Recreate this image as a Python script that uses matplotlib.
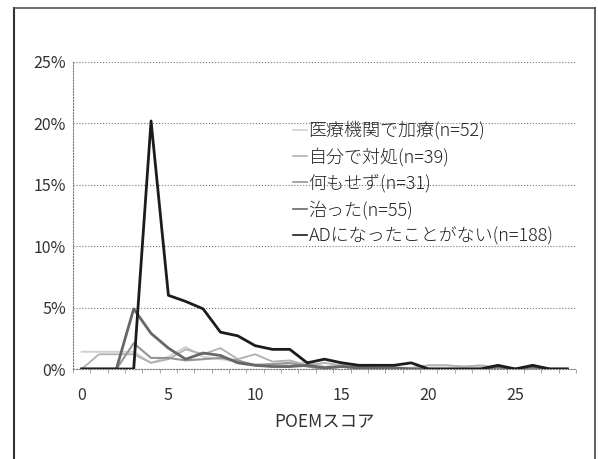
import numpy as np
import matplotlib
matplotlib.use('Agg')
import matplotlib.pyplot as plt
from matplotlib.lines import Line2D

plt.rcParams['font.family'] = ['Noto Sans CJK JP', 'DejaVu Sans']

scores = list(range(29))
iryo = [1.4, 1.4, 1.4, 1.4, 0.5, 1.0, 1.8, 1.0, 0.8, 0.6, 0.4, 0.4, 0.3, 0.6, 0.2,
        0.4, 0, 0, 0, 0, 0.3, 0.3, 0.2, 0.2, 0.2, 0, 0, 0, 0]
jibun = [0, 1.2, 1.2, 1.2, 0.5, 0.8, 1.6, 1.2, 1.7, 0.8, 1.2, 0.6, 0.7, 0.3, 0.5,
         0.3, 0.2, 0.1, 0.1, 0.1, 0.3, 0.3, 0.2, 0.3, 0.1, 0, 0, 0, 0]
nanimo = [0, 0, 0, 2.1, 0.9, 0.9, 0.7, 0.8, 0.9, 0.7, 0.3, 0.4, 0.5, 0.2, 0,
          0.2, 0, 0, 0, 0, 0, 0, 0, 0, 0, 0, 0, 0, 0]
naotta = [0, 0, 0, 4.9, 2.9, 1.7, 0.8, 1.3, 1.1, 0.5, 0.3, 0.2, 0.2, 0.3, 0.1,
          0.2, 0.1, 0.1, 0.1, 0, 0, 0, 0, 0, 0.2, 0, 0.2, 0, 0]
ad = [0, 0, 0, 0, 20.2, 6.0, 5.5, 4.9, 3.0, 2.7, 1.9, 1.6, 1.6, 0.5, 0.8,
      0.5, 0.3, 0.3, 0.3, 0.5, 0, 0, 0, 0, 0.3, 0, 0.3, 0, 0]

labels = ['医療機関で加療(n=52)', '自分で対処(n=39)', '何もせず(n=31)',
          '治った(n=55)', 'ADになったことがない(n=188)']
series = [iryo, jibun, nanimo, naotta, ad]
colors = ['#cfcfcf', '#b0b0b0', '#959595', '#676767', '#1c1c1c']
widths = [1.3, 1.3, 1.5, 2.0, 2.0]

fig = plt.figure(figsize=(5.98, 4.59), dpi=100)
# chart frame
fig.add_artist(Line2D([14/598, 14/598], [0, 1-8/459], color='#333333', lw=1.5))
fig.add_artist(Line2D([14/598, 595/598], [1-8/459, 1-8/459], color='#555555', lw=1.2))
fig.add_artist(Line2D([595/598, 595/598], [0, 1-8/459], color='#444444', lw=1.2))

ax = fig.add_axes([73/598, 1-369/459, 503/598, 307/459])
for s, c, w, l in zip(series, colors, widths, labels):
    ax.plot(scores, s, color=c, lw=w, label=l)

ax.set_xlim(-0.5, 28.5)
ax.set_ylim(0, 25)
ax.set_yticks([0, 5, 10, 15, 20, 25])
ax.set_yticklabels(['0%', '5%', '10%', '15%', '20%', '25%'])
ax.set_xticks([0, 5, 10, 15, 20, 25])
ax.set_xticks(np.arange(-0.5, 29, 1), minor=True)
ax.tick_params(axis='both', which='major', length=0, labelsize=11.5, colors='#333333', pad=5)
ax.tick_params(axis='x', which='minor', length=3, color='#999999', direction='out')
ax.tick_params(axis='x', which='major', pad=13)
ax.grid(axis='y', ls=':', color='#777777', lw=0.8)
for sp in ['top', 'right']:
    ax.spines[sp].set_visible(False)
for sp in ['left', 'bottom']:
    ax.spines[sp].set_linestyle(':')
    ax.spines[sp].set_color('#777777')
    ax.spines[sp].set_linewidth(0.8)
ax.set_xlabel('POEMスコア', fontsize=12.5, color='#333333', labelpad=6)

leg = ax.legend(loc='upper left', bbox_to_anchor=(284/598, 1-112/459),
                bbox_transform=fig.transFigure, frameon=False,
                prop={'size': 13, 'weight': 'light'},
                handlelength=0.75, handletextpad=0.1, labelspacing=0.42, borderpad=0)
for t in leg.get_texts():
    t.set_color('#222222')
for h in leg.get_lines():
    h.set_linewidth(1.2)

fig.savefig('out.png', dpi=100)
